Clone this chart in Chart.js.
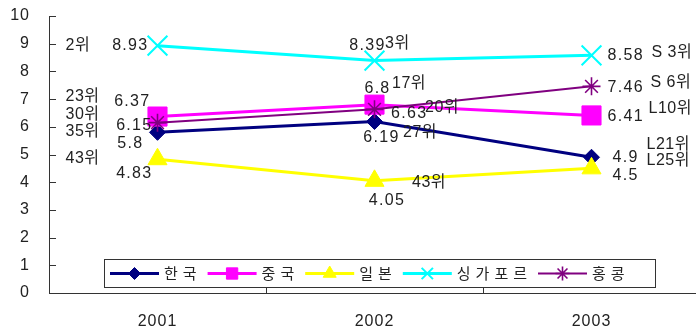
<!DOCTYPE html>
<html>
<head>
<meta charset="utf-8">
<script src="https://cdn.jsdelivr.net/npm/chart.js@4/dist/chart.umd.min.js"></script>
<style>
  html, body { margin: 0; padding: 0; background: #fff; overflow: hidden; }
  #wrap { width: 716px; height: 328px; position: relative; }
</style>
</head>
<body>
<div id="wrap"><canvas id="c"></canvas></div>
<script>
// Categories and series
const years = ['2001', '2002', '2003'];
const seriesNames = ['한국', '중국', '일본', '싱가포르', '홍콩'];
const korea     = [5.8, 6.19, 4.9];
const china     = [6.37, 6.8, 6.41];
const japan     = [4.83, 4.05, 4.5];
const singapore = [8.93, 8.39, 8.58];
const hongkong  = [6.15, 6.63, 7.46];

// Rank annotations per series and year
const rankKorea     = ['35위', '27위', 'L21위'];
const rankChina     = ['23위', '17위', 'L10위'];
const rankJapan     = ['43위', '43위', 'L25위'];
const rankSingapore = ['2위', '3위', 'S 3위'];
const rankHongkong  = ['30위', '20위', 'S 6위'];

// Value axis
const yMin = 0, yMax = 10, yStep = 1;

// Series styling
const styles = [
  { color: '#000080', point: 'rectRot',  r: 8,    lw: 3, pbw: 1, lr: 6 },
  { color: '#FF00FF', point: 'rect',     r: 13.5, lw: 3, pbw: 1, lr: 8 },
  { color: '#FFFF00', point: 'triangle', r: 11,   lw: 3, pbw: 1, lr: 7.5 },
  { color: '#00FFFF', point: 'crossRot', r: 14,   lw: 3, pbw: 2, lr: 8 },
  { color: '#800080', point: 'star',     r: 9,    lw: 2, pbw: 1.6, lr: 7 }
];
const values = [korea, china, japan, singapore, hongkong];
const ranks  = [rankKorea, rankChina, rankJapan, rankSingapore, rankHongkong];

// Label placement relative to each marker: [dx, dy, align]
const valuePos = [
  [[-14, 11, 'right'], [7, 16, 'center'], [21, 0, 'left']],
  [[-7, -15, 'right'], [3, -16, 'center'], [16, 1, 'left']],
  [[-5, 14, 'right'], [12.5, 20, 'center'], [21, 7, 'left']],
  [[-9, 0, 'right'], [-7, -15, 'center'], [16, 0, 'left']],
  [[-5, 3, 'right'], [16.5, 4, 'left'], [16, 1, 'left']]
];
const rankPos = [
  [[-92, -1], [28.5, 11], [55, -13]],
  [[-92, -20], [17.5, -21], [57, -7]],
  [[-92, -1], [37.5, 2], [55, -8]],
  [[-92, 0], [10.5, -17], [60, -2.5]],
  [[-92, -8], [50.5, -2], [59, -4]]
];

const TEXT = '#222';
const NUM_FONT = "16px 'Liberation Sans', 'Noto Sans CJK KR', sans-serif";
const KR_FONT = "15px 'Noto Sans CJK KR', sans-serif";

const datasets = values.map((vals, i) => ({
  label: seriesNames[i],
  data: vals,
  borderColor: styles[i].color,
  backgroundColor: styles[i].color,
  borderWidth: styles[i].lw,
  pointStyle: styles[i].point,
  pointRadius: styles[i].r,
  pointHoverRadius: styles[i].r,
  pointBorderWidth: styles[i].pbw,
  pointBorderColor: styles[i].color,
  pointBackgroundColor: styles[i].color,
  tension: 0,
  order: values.length - 1 - i,
  clip: false
}));

// Spaced lettering for axis text
const spacing = {
  id: 'spacing',
  beforeDraw(chart) { chart.ctx.letterSpacing = '1px'; }
};

// Inward tick marks on both axes
const innerTicks = {
  id: 'innerTicks',
  afterDraw(chart) {
    const { ctx, scales: { x, y } } = chart;
    ctx.save();
    ctx.strokeStyle = '#333';
    ctx.lineWidth = 1;
    ctx.beginPath();
    for (let v = yMin; v <= yMax; v += yStep) {
      const py = Math.round(y.getPixelForValue(v)) + 0.5;
      ctx.moveTo(x.left, py);
      ctx.lineTo(x.left + 7, py);
    }
    for (let k = 1; k < years.length; k++) {
      const px = Math.round(x.left + (x.right - x.left) * k / years.length) + 0.5;
      ctx.moveTo(px, y.bottom);
      ctx.lineTo(px, y.bottom - 6);
    }
    ctx.stroke();
    ctx.restore();
  }
};

// Value and rank labels beside the markers
const pointLabels = {
  id: 'pointLabels',
  afterDatasetsDraw(chart) {
    const ctx = chart.ctx;
    ctx.save();
    ctx.fillStyle = TEXT;
    ctx.textBaseline = 'middle';
    values.forEach((vals, i) => {
      const meta = chart.getDatasetMeta(i);
      vals.forEach((v, j) => {
        const pt = meta.data[j];
        const [dx, dy, al] = valuePos[i][j];
        ctx.font = NUM_FONT;
        ctx.letterSpacing = '1.3px';
        ctx.textAlign = al;
        ctx.fillText(String(v), pt.x + dx, pt.y + dy);
        const [rx, ry] = rankPos[i][j];
        ctx.letterSpacing = '0.5px';
        ctx.textAlign = 'left';
        ctx.fillText(ranks[i][j], pt.x + rx, pt.y + ry);
      });
    });
    ctx.restore();
  }
};

// Boxed legend inside the plot area
const boxLegend = {
  id: 'boxLegend',
  afterDraw(chart) {
    const ctx = chart.ctx;
    const bx = 104.5, by = 259.5, bw = 551, bh = 28;
    const cy = by + bh / 2;
    ctx.save();
    ctx.fillStyle = '#fff';
    ctx.strokeStyle = '#333';
    ctx.lineWidth = 1;
    ctx.fillRect(bx, by, bw, bh);
    ctx.strokeRect(bx, by, bw, bh);
    ctx.font = KR_FONT;
    ctx.letterSpacing = '5px';
    ctx.textBaseline = 'middle';
    ctx.textAlign = 'left';
    let x = 110;
    seriesNames.forEach((name, i) => {
      const s = styles[i];
      ctx.strokeStyle = s.color;
      ctx.lineWidth = s.lw;
      ctx.beginPath();
      ctx.moveTo(x, cy);
      ctx.lineTo(x + 49, cy);
      ctx.stroke();
      ctx.fillStyle = s.color;
      ctx.lineWidth = s.pbw;
      Chart.helpers.drawPoint(ctx, { pointStyle: s.point, radius: s.lr, borderWidth: s.pbw }, x + 24.5, cy);
      ctx.fillStyle = TEXT;
      const tx = x + 54;
      ctx.fillText(name, tx, cy);
      x = tx + ctx.measureText(name).width + 6;
    });
    ctx.restore();
  }
};

new Chart(document.getElementById('c'), {
  type: 'line',
  data: { labels: years, datasets },
  options: {
    responsive: true,
    maintainAspectRatio: false,
    animation: false,
    layout: { padding: { top: 14, right: 0, bottom: 0, left: 0 } },
    plugins: { legend: { display: false }, tooltip: { enabled: false } },
    scales: {
      x: {
        offset: true,
        grid: { display: true, drawOnChartArea: false, drawTicks: false },
        border: { display: true, color: '#333', width: 1 },
        ticks: { color: TEXT, padding: 19, font: { family: "'Liberation Sans', sans-serif", size: 16 } },
        afterFit(scale) { scale.height = 35; scale.paddingLeft = 0; scale.paddingRight = 0; }
      },
      y: {
        min: yMin, max: yMax,
        grid: { display: true, drawOnChartArea: false, drawTicks: false },
        border: { display: true, color: '#333', width: 1 },
        ticks: { stepSize: yStep, color: TEXT, padding: 19, font: { family: "'Liberation Sans', sans-serif", size: 16 } },
        afterFit(scale) { scale.width = 49; scale.paddingTop = 0; scale.paddingBottom = 0; }
      }
    }
  },
  plugins: [spacing, innerTicks, pointLabels, boxLegend]
});
</script>
</body>
</html>
